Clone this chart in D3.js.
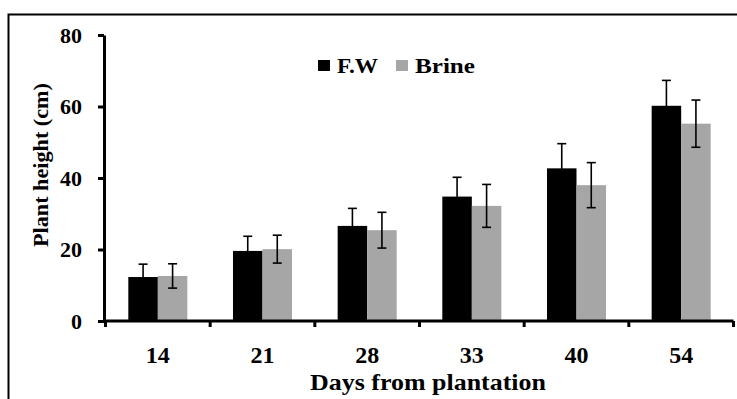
<!DOCTYPE html>
<html><head><meta charset="utf-8">
<script src="https://cdn.jsdelivr.net/npm/d3@7/dist/d3.min.js"></script>
<style>
html,body{margin:0;padding:0;background:#fff;}
svg{display:block;}
svg text{font-family:"Liberation Serif","Times New Roman",Tinos,"DejaVu Serif",serif !important;font-weight:bold;fill:#000;}
</style></head>
<body><svg id="c" width="737" height="399"></svg>
<script>
const categories = ["14","21","28","33","40","54"];
const seriesNames = ["F.W","Brine"];
const fwValues = [12.3, 19.6, 26.6, 34.8, 42.7, 60.2];
const fwErrors = [3.6, 4.1, 4.9, 5.4, 6.9, 7.1];
const brineValues = [12.6, 20.1, 25.4, 32.2, 38.0, 55.2];
const brineErrors = [3.4, 3.9, 5.0, 6.0, 6.3, 6.6];
const yTicks = [0, 20, 40, 60, 80];
const colors = ["#000000", "#a6a6a6"];

(function () {
const svg = d3.select("#c");
// outer frame
svg.append("rect").attr("x", 8.5).attr("y", 14.5).attr("width", 800).attr("height", 500)
  .attr("fill", "none").attr("stroke", "#000").attr("stroke-width", 2);

const pLeft = 104, pRight = 733.5, pTop = 35, pBottom = 321;
const bandStart = 105.5;
const x = d3.scaleBand().domain(categories).range([bandStart, pRight]).paddingInner(0.436).paddingOuter(0.218);
const xs = d3.scaleBand().domain(seriesNames).range([0, x.bandwidth()]);
const y = d3.scaleLinear().domain([0, 80]).range([pBottom, pTop]);

const data = categories.map((c, i) => ({
  cat: c,
  vals: [
    {s: "F.W", v: fwValues[i], e: fwErrors[i]},
    {s: "Brine", v: brineValues[i], e: brineErrors[i]}
  ]
}));

const g = svg.append("g");
const groups = g.selectAll("g.cat").data(data).join("g").attr("class", "cat").attr("transform", d => `translate(${x(d.cat)},0)`);
groups.selectAll("rect").data(d => d.vals).join("rect")
  .attr("x", d => xs(d.s)).attr("width", xs.bandwidth())
  .attr("y", d => y(d.v)).attr("height", d => y(0) - y(d.v))
  .attr("fill", (d, i) => colors[i]);
// error bars
const eb = groups.selectAll("g.eb").data(d => d.vals).join("g").attr("class", "eb")
  .attr("stroke", "#000").attr("stroke-width", 1.6);
const cx = d => xs(d.s) + xs.bandwidth() / 2;
eb.append("line").attr("x1", cx).attr("x2", cx)
  .attr("y1", d => y(d.v + d.e)).attr("y2", d => y(d.v - d.e));
eb.append("line").attr("x1", d => cx(d) - 4.5).attr("x2", d => cx(d) + 4.5)
  .attr("y1", d => y(d.v + d.e)).attr("y2", d => y(d.v + d.e));
eb.append("line").attr("x1", d => cx(d) - 4.5).attr("x2", d => cx(d) + 4.5)
  .attr("y1", d => y(d.v - d.e)).attr("y2", d => y(d.v - d.e));

// y axis
const ya = svg.append("g").attr("transform", `translate(${pLeft},0)`)
  .call(d3.axisLeft(y).tickValues(yTicks).tickSize(6).tickSizeOuter(0).tickPadding(16));
ya.attr("font-family", null).attr("font-size", null);
ya.select(".domain").attr("stroke-width", 3);
ya.selectAll(".tick line").attr("stroke-width", 3);
ya.selectAll("text").style("font-size", "22px").attr("dy", "0.34em")
  .attr("textLength", d => String(d).length * 11).attr("lengthAdjust", "spacingAndGlyphs");

// x axis
const xa = svg.append("g").attr("transform", `translate(0,${pBottom})`)
  .call(d3.axisBottom(x).tickSize(0).tickSizeOuter(0));
xa.attr("font-family", null).attr("font-size", null);
xa.select(".domain").attr("d", `M${pLeft},0H${pRight}`).attr("stroke-width", 3);
xa.selectAll("text").style("font-size", "23px").attr("dy", null).attr("y", 42)
  .attr("textLength", 24).attr("lengthAdjust", "spacingAndGlyphs");
// boundary ticks
const bounds = d3.range(categories.length + 1).map(i => bandStart + i * x.step());
xa.selectAll("line.bt").data(bounds).join("line").attr("class", "bt")
  .attr("x1", d => d).attr("x2", d => d).attr("y1", 0).attr("y2", 6)
  .attr("stroke", "#000").attr("stroke-width", 3);

// axis titles
svg.append("text").attr("x", 310).attr("y", 390)
  .style("font-size", "23px").attr("textLength", 236).attr("lengthAdjust", "spacingAndGlyphs")
  .text("Days from plantation");
svg.append("text").attr("transform", "translate(48,247) rotate(-90)")
  .style("font-size", "22px").attr("textLength", 164).attr("lengthAdjust", "spacingAndGlyphs")
  .text("Plant height (cm)");

// legend
const lg = svg.append("g");
const legX = [318, 396];
const legW = [41, 60];
seriesNames.forEach((s, i) => {
  lg.append("rect").attr("x", legX[i]).attr("y", 60).attr("width", 12).attr("height", 11).attr("fill", colors[i]);
  lg.append("text").attr("x", legX[i] + 19).attr("y", 73).style("font-size", "22px")
    .attr("textLength", legW[i]).attr("lengthAdjust", "spacingAndGlyphs").text(s);
});
})();
</script></body></html>
